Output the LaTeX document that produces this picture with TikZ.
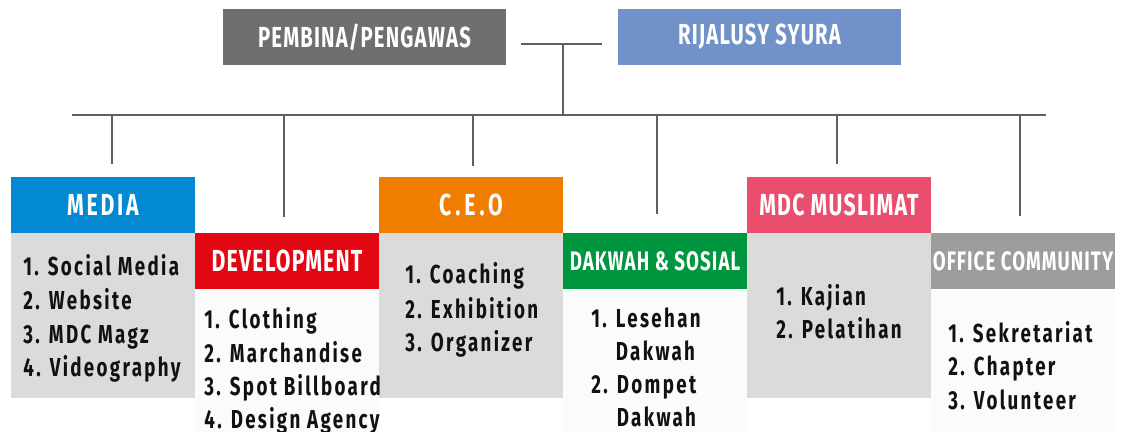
\documentclass[tikz,border=0pt]{standalone}
\usepackage{fontspec}
\newfontfamily\hfont[FakeStretch=0.7,LetterSpace=4]{Fira Sans}
\newfontfamily\hfontW[FakeStretch=0.7,LetterSpace=13]{Fira Sans}
\newfontfamily\ifont[FakeStretch=0.72,LetterSpace=9]{Fira Sans}
\definecolor{pgray}{HTML}{6F6F6E}
\definecolor{rblue}{HTML}{7191C9}
\definecolor{mblue}{HTML}{0389D2}
\definecolor{dred}{HTML}{E30613}
\definecolor{corange}{HTML}{EF7D00}
\definecolor{sgreen}{HTML}{00963F}
\definecolor{mpink}{HTML}{E94E6F}
\definecolor{ogray}{HTML}{9C9D9D}
\definecolor{bodygray}{HTML}{DADBDB}
\definecolor{bodywhite}{HTML}{FBFBFB}
\definecolor{linegray}{HTML}{5F5F5F}
\definecolor{itemblack}{HTML}{111111}
\tikzset{
  topbox/.style={fill=#1, text=white, anchor=north west, minimum width=5.66cm, minimum height=1.12cm, inner sep=0pt, outer sep=0pt, font=\hfont\bfseries\fontsize{16.5}{18}\selectfont},
  hdr/.style={fill=#1, text=white, anchor=north west, minimum width=3.68cm, minimum height=1.12cm, inner sep=0pt, outer sep=0pt, font=\hfont\bfseries\fontsize{17.3}{19}\selectfont},
  hdrsmall/.style={font=\hfont\bfseries\fontsize{15.2}{17}\selectfont},
  hdrwide/.style={font=\hfontW\bfseries\fontsize{17.3}{19}\selectfont},
  bodybox/.style={fill=#1, anchor=north west, minimum width=3.68cm, inner sep=0pt, outer sep=0pt},
  item/.style={anchor=base west, inner sep=0pt, text=itemblack, font=\ifont\bfseries\fontsize{14.8}{18}\selectfont},
  link/.style={draw=linegray, line width=1.1pt},
}
\begin{document}
\begin{tikzpicture}[x=0.02cm, y=-0.02cm]
\useasboundingbox (0,0) rectangle (1125,432);
\clip (0,0) rectangle (1125,432);

% top boxes
\node[topbox=pgray] (pembina) at (223,9) {PEMBINA/PENGAWAS};
\node[topbox=rblue, minimum width=5.66cm] (rijal) at (618,9) {RIJALUSY SYURA};

% bodies
\node[bodybox=bodygray, minimum height=3.3cm] (mediab) at (11,233) {};
\node[bodybox=bodywhite, minimum height=2.9cm] (devb) at (195,288) {};
\node[bodybox=bodygray, minimum height=3.3cm] (ceob) at (379,233) {};
\node[bodybox=bodywhite, minimum height=2.9cm] (dakb) at (563,288) {};
\node[bodybox=bodygray, minimum height=3.3cm] (mdcb) at (747,233) {};
\node[bodybox=bodywhite, minimum height=2.9cm] (offb) at (931,288) {};

% headers
\node[hdr=mblue] (media) at (11,177) {\addfontfeatures{LetterSpace=9}MEDIA};
\node[hdr=dred] (dev) at (195,233) {DEVELOPMENT};
\node[hdr=corange, hdrwide] (ceo) at (379,177) {C.E.O};
\node[hdr=sgreen, hdrsmall] (dak) at (563,233) {DAKWAH \& SOSIAL};
\node[hdr=mpink] (mdc) at (747,177) {MDC MUSLIMAT};
\node[hdr=ogray, hdrsmall] (off) at (931,233) {OFFICE COMMUNITY};

% items
\node[item] (m1) at (23,275) {1. Social Media};
\node[item] (m2) at (23,309) {2. Website};
\node[item] (m3) at (23,343) {3. MDC Magz};
\node[item] (m4) at (23,376) {4. Videography};

\node[item] (d1) at (204,328) {1. Clothing};
\node[item] (d2) at (204,362) {2. Marchandise};
\node[item] (d3) at (204,395) {3. Spot Billboard};
\node[item] (d4) at (204,428) {4. Design Agency};

\node[item] (c1) at (405,283) {1. Coaching};
\node[item] (c2) at (405,318) {2. Exhibition};
\node[item] (c3) at (405,351) {3. Organizer};

\node[item] (k1) at (591,327) {1. Lesehan};
\node[item] (k2) at (591,360) {\phantom{1. }Dakwah};
\node[item] (k3) at (591,393) {2. Dompet};
\node[item] (k4) at (591,426) {\phantom{2. }Dakwah};

\node[item] (s1) at (776,305) {1. Kajian};
\node[item] (s2) at (776,338) {2. Pelatihan};

\node[item] (o1) at (948,342) {1. Sekretariat};
\node[item] (o2) at (948,375) {2. Chapter};
\node[item] (o3) at (948,409) {3. Volunteer};

% connectors
\coordinate (tl) at (521,44);
\coordinate (tr) at (602,44);
\coordinate (tm) at (563,44);
\coordinate (busL) at (72,115);
\coordinate (busR) at (1046,115);
\coordinate (busM) at (563,115);
\draw[link] (tl) -- (tr);
\draw[link] (tm) -- (busM);
\draw[link] (busL) -- (busR);
\foreach \x/\e [count=\i] in {112/164, 284/217, 473/166, 657/214, 837/164, 1020/216}{
  \coordinate (bt\i) at (\x,115);
  \coordinate (be\i) at (\x,\e);
  \draw[link] (bt\i) -- (be\i);
}
\end{tikzpicture}
\end{document}
